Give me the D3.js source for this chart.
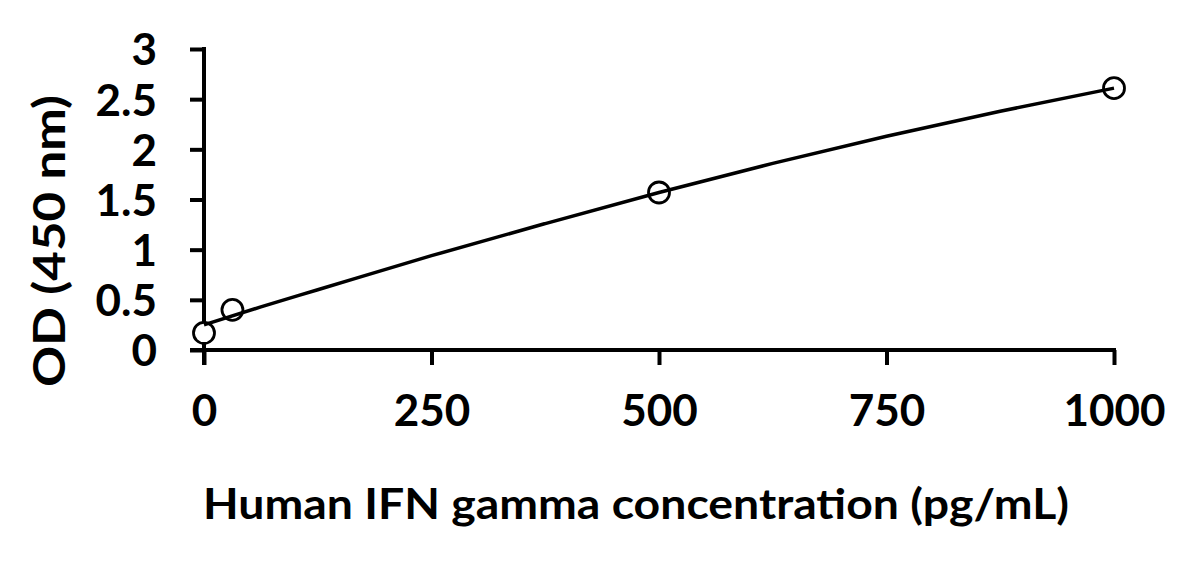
<!DOCTYPE html>
<html>
<head>
<meta charset="utf-8">
<script src="https://cdn.jsdelivr.net/npm/d3@7"></script>
<style>
  html, body { margin: 0; padding: 0; background: #fff; }
  svg { display: block; }
  text { font-family: Lato, "Open Sans", sans-serif; font-weight: 700; fill: #000; }
</style>
</head>
<body>
<svg id="chart" width="1187" height="562"></svg>
<script>
// Measured points (pg/mL, OD)
const concentrations = [0, 31.25, 500, 1000];
const odValues = [0.17, 0.40, 1.57, 2.61];
// Fitted curve
const fitX = [0, 62.5, 125, 250, 375, 500, 625, 750, 875, 1000];
const fitY = [0.25, 0.43, 0.60, 0.94, 1.26, 1.57, 1.86, 2.13, 2.38, 2.61];
const xTicks = [0, 250, 500, 750, 1000];
const yTicks = [0, 0.5, 1, 1.5, 2, 2.5, 3];
const xTitle = "Human IFN gamma concentration (pg/mL)";
const yTitle = "OD (450 nm)";

const svg = d3.select("#chart");
const x = d3.scaleLinear().domain([0, 1000]).range([204, 1114]);
const y = d3.scaleLinear().domain([0, 3]).range([350, 49]);

const axW = 4;

// Y axis
const gy = svg.append("g").attr("transform", `translate(${x(0)},0)`)
  .call(d3.axisLeft(y).tickValues(yTicks).tickSize(14).tickPadding(33)
        .tickFormat(d => d3.format("")(d)));
gy.select(".domain").remove();
gy.selectAll(".tick line").attr("stroke", "#000").attr("stroke-width", axW);
gy.selectAll(".tick text").style("font-size", "44px").attr("dy", "0.36em")
  .attr("font-family", null);
gy.append("line").attr("x1", 0).attr("x2", 0).attr("y1", y(3) - axW/2).attr("y2", y(0) + 15)
  .attr("stroke", "#000").attr("stroke-width", axW);

// X axis
const gx = svg.append("g").attr("transform", `translate(0,${y(0)})`)
  .call(d3.axisBottom(x).tickValues(xTicks).tickSize(15).tickPadding(30)
        .tickFormat(d3.format("d")));
gx.select(".domain").remove();
gx.selectAll(".tick line").attr("stroke", "#000").attr("stroke-width", axW);
gx.selectAll(".tick text").style("font-size", "44px").attr("dy", "0.71em")
  .attr("font-family", null);
gx.append("line").attr("x1", x(0) - 14).attr("x2", x(1000) + axW/2).attr("y1", 0).attr("y2", 0)
  .attr("stroke", "#000").attr("stroke-width", axW);

// Points
svg.append("g").selectAll("circle")
  .data(concentrations.map((c, i) => ({c, v: odValues[i]})))
  .join("circle")
  .attr("cx", d => x(d.c)).attr("cy", d => y(d.v)).attr("r", 10.5)
  .attr("fill", "#fff").attr("stroke", "#000").attr("stroke-width", 2.8);

// Fit curve
const line = d3.line().x(d => x(d[0])).y(d => y(d[1])).curve(d3.curveMonotoneX);
svg.append("path").datum(fitX.map((v, i) => [v, fitY[i]]))
  .attr("d", line).attr("fill", "none").attr("stroke", "#000").attr("stroke-width", 3.5);

// Titles
svg.append("text").attr("x", 636).attr("y", 519).attr("text-anchor", "middle")
  .attr("textLength", 866).attr("lengthAdjust", "spacingAndGlyphs")
  .style("font-size", "42px").text(xTitle);
svg.append("text").attr("transform", "translate(65,241) rotate(-90)").attr("text-anchor", "middle")
  .attr("textLength", 292).attr("lengthAdjust", "spacingAndGlyphs")
  .style("font-size", "44px").text(yTitle);
</script>
</body>
</html>
